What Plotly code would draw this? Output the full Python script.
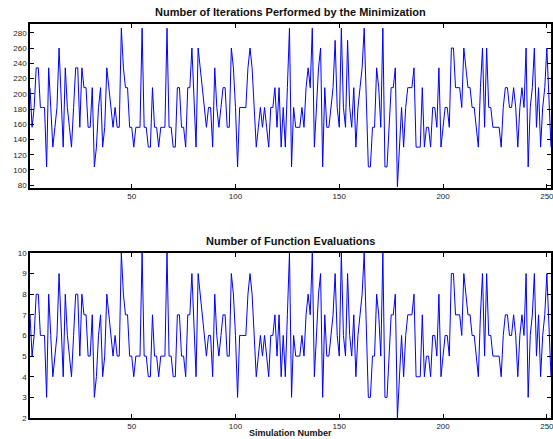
import plotly.graph_objects as go

simulation = list(range(1, 253))

evaluations = [
    7, 5, 6, 8, 8, 6, 6, 6, 3, 8, 6, 4, 5, 6, 9, 6, 4, 8, 6, 5,
    4, 6, 8, 8, 5, 8, 7, 7, 5, 5, 7, 3, 4, 6, 7, 4, 5, 8, 7, 6,
    5, 6, 5, 5, 10, 8, 7, 7, 5, 5, 4, 5, 5, 5, 10, 5, 5, 4, 4, 7,
    5, 5, 4, 5, 5, 5, 10, 5, 5, 4, 4, 7, 7, 5, 5, 4, 7, 7, 9, 6,
    4, 9, 8, 7, 6, 5, 6, 6, 4, 8, 6, 5, 6, 7, 7, 5, 5, 9, 8, 6,
    3, 6, 6, 6, 6, 8, 9, 8, 6, 4, 5, 6, 5, 6, 5, 4, 6, 6, 7, 5,
    7, 4, 6, 4, 7, 10, 3, 6, 5, 5, 5, 6, 5, 7, 8, 7, 10, 4, 6, 8,
    9, 3, 7, 5, 5, 6, 7, 9, 6, 5, 10, 6, 5, 9, 6, 5, 7, 4, 6, 7,
    8, 10, 6, 3, 3, 5, 5, 8, 7, 5, 10, 3, 3, 5, 7, 7, 8, 2, 4, 6,
    4, 6, 7, 7, 7, 8, 4, 4, 4, 7, 4, 5, 5, 4, 6, 6, 5, 8, 4, 5,
    6, 6, 5, 9, 9, 7, 7, 7, 6, 9, 8, 7, 7, 6, 6, 5, 4, 7, 9, 5,
    9, 6, 6, 5, 5, 5, 5, 4, 6, 7, 7, 6, 6, 7, 6, 4, 6, 7, 6, 9,
    3, 6, 7, 9, 5, 7, 4, 6, 7, 9, 6, 4,
]

iterations = [
    208, 156, 182, 234, 234, 182, 182, 182, 104, 234, 182, 130, 156, 182, 260, 182, 130, 234, 182, 156,
    130, 182, 234, 234, 156, 234, 208, 208, 156, 156, 208, 104, 130, 182, 208, 130, 156, 234, 208, 182,
    156, 182, 156, 156, 286, 234, 208, 208, 156, 156, 130, 156, 156, 156, 286, 156, 156, 130, 130, 208,
    156, 156, 130, 156, 156, 156, 286, 156, 156, 130, 130, 208, 208, 156, 156, 130, 208, 208, 260, 182,
    130, 260, 234, 208, 182, 156, 182, 182, 130, 234, 182, 156, 182, 208, 208, 156, 156, 260, 234, 182,
    104, 182, 182, 182, 182, 234, 260, 234, 182, 130, 156, 182, 156, 182, 156, 130, 182, 182, 208, 156,
    208, 130, 182, 130, 208, 286, 104, 182, 156, 156, 156, 182, 156, 208, 234, 208, 286, 130, 182, 234,
    260, 104, 208, 156, 156, 182, 208, 270, 182, 156, 286, 182, 156, 270, 182, 156, 208, 130, 182, 208,
    234, 286, 182, 104, 104, 156, 156, 234, 208, 156, 286, 104, 104, 156, 208, 208, 234, 78, 130, 182,
    130, 182, 208, 208, 208, 234, 130, 130, 130, 208, 130, 156, 156, 130, 182, 182, 156, 234, 130, 156,
    182, 182, 156, 260, 260, 208, 208, 208, 182, 260, 234, 208, 208, 182, 182, 156, 130, 208, 260, 156,
    260, 182, 182, 156, 156, 156, 156, 130, 182, 208, 208, 182, 182, 208, 182, 130, 182, 208, 182, 260,
    104, 182, 208, 260, 156, 208, 130, 182, 208, 260, 182, 130,
]

x_ticks = [50, 100, 150, 200, 250]
iter_ticks = [80, 100, 120, 140, 160, 180, 200, 220, 240, 260, 280]
eval_ticks = [2, 3, 4, 5, 6, 7, 8, 9, 10]

line_color = "rgb(0,0,255)"
font_family = "Liberation Sans, Arial, Helvetica, sans-serif"

fig = go.Figure()
fig.add_trace(go.Scatter(x=simulation, y=iterations, mode="lines",
                         line=dict(color=line_color, width=1),
                         xaxis="x", yaxis="y", showlegend=False))
fig.add_trace(go.Scatter(x=simulation, y=evaluations, mode="lines",
                         line=dict(color=line_color, width=1),
                         xaxis="x2", yaxis="y2", showlegend=False))

axis_common = dict(showgrid=False, zeroline=False, showline=True, linecolor="black",
                   linewidth=1.5, mirror="ticks", ticks="inside", ticklen=4,
                   tickcolor="black", tickwidth=1, automargin=False,
                   ticklabeloverflow="allow",
                   tickfont=dict(size=8, color="#222", family=font_family))

fig.update_layout(
    width=553, height=439,
    margin=dict(l=30, r=2, t=24, b=21),
    plot_bgcolor="white", paper_bgcolor="white",
    xaxis=dict(domain=[0, 1], anchor="y", range=[1, 252], tickvals=x_ticks, **axis_common),
    yaxis=dict(domain=[0.584, 1], anchor="x", range=[76.5, 291.5], tickvals=iter_ticks, **axis_common),
    xaxis2=dict(domain=[0, 1], anchor="y2", range=[1, 252], tickvals=x_ticks, **axis_common),
    yaxis2=dict(domain=[0, 0.419], anchor="x2", range=[2, 10], tickvals=eval_ticks, **axis_common),
    annotations=[
        dict(text="<b>Number of Iterations Performed by the Minimization</b>",
             xref="paper", yref="paper", x=0.5, y=1.0, yshift=4, xanchor="center", yanchor="bottom",
             showarrow=False, font=dict(size=11, color="#111", family=font_family)),
        dict(text="<b>Number of Function Evaluations</b>",
             xref="paper", yref="paper", x=0.5, y=0.419, yshift=4, xanchor="center", yanchor="bottom",
             showarrow=False, font=dict(size=11, color="#111", family=font_family)),
        dict(text="<b>Simulation Number</b>",
             xref="paper", yref="paper", x=0.5, y=0, yshift=-15, xanchor="center", yanchor="middle",
             showarrow=False, font=dict(size=9, color="#111", family=font_family)),
    ],
)

fig.write_html("out.html",
               config={"displayModeBar": False},
               post_script="document.body.style.margin='0';document.body.style.overflow='hidden';")
